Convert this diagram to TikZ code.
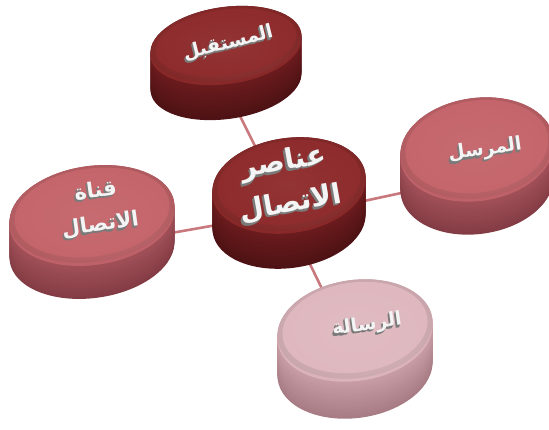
\documentclass[tikz,border=0pt]{standalone}
\usepackage{fontspec}
\newfontfamily\arabicfont[Script=Arabic]{DejaVu Sans}
\TeXXeTstate=1

\definecolor{darkface}{HTML}{8E2B2C}
\definecolor{darkside}{HTML}{6E1C1E}
\definecolor{darkbase}{HTML}{4E1214}
\definecolor{roseface}{HTML}{C4656B}
\definecolor{roseside}{HTML}{A4525A}
\definecolor{rosebase}{HTML}{843C44}
\definecolor{paleface}{HTML}{DFB8BF}
\definecolor{paleside}{HTML}{CBA0A8}
\definecolor{palebase}{HTML}{A87C84}
\definecolor{linkcol}{HTML}{C9787E}
\definecolor{extrude}{HTML}{7A7A7A}
\definecolor{letter}{HTML}{F4F4F4}

\tikzset{
  link/.style={draw=linkcol, line width=2.6pt},
  caption3d/.style={align=center, inner sep=0pt}
}

% #1 centre x, #2 centre y, #3 x radius, #4 y radius, #5 tilt, #6 depth, #7 palette
\newcommand\puckshape[7]{%
  \foreach \k in {0,...,30}{%
    \pgfmathsetmacro\off{#6*(1-\k/30)}%
    \pgfmathsetmacro\mix{100*\k/30}%
    \fill[#7side!\mix!#7base, shift={(#1,#2+\off)}, rotate=#5]
      (0,0) ellipse ({#3} and {#4});
  }%
  % rounded rim between side and face
  \fill[#7face!80!#7side, shift={(#1,#2+3)}, rotate=#5]
    (0,0) ellipse ({#3} and {#4});
  \shade[shift={(#1,#2)}, rotate=#5, inner color=#7face!88!white,
         outer color=#7face!90!black]
    (0,0) ellipse ({#3} and {#4});
  \shade[shift={(#1,#2-1.5)}, rotate=#5, inner color=#7face!96!white,
         outer color=#7face]
    (0,0) ellipse ({#3-5} and {#4-4});
}

% #1 name, #2 x, #3 y, #4 tilt, #5 size, #6 leading, #7 text
\newcommand\puckcaption[7]{%
  \foreach \d in {3,2,1}{%
    \node[caption3d, text=extrude, rotate=#4, font=\fontsize{#5}{#6}\arabicfont\bfseries]
      at (#2-0.5*\d,#3+0.8*\d) {#7};
  }%
  \node[caption3d, text=letter, rotate=#4, font=\fontsize{#5}{#6}\arabicfont\bfseries]
    (#1) at (#2,#3) {#7};
}

\begin{document}
\begin{tikzpicture}[x=1pt,y=-1pt]
\useasboundingbox (0,0) rectangle (549,430);

% end points of the spokes, hidden under the pucks
\coordinate (futA) at (240,116);
\coordinate (futB) at (258,152);
\coordinate (sndA) at (350,204);
\coordinate (sndB) at (420,189);
\coordinate (chnA) at (160,235);
\coordinate (chnB) at (228,223);
\coordinate (msgA) at (308,260);
\coordinate (msgB) at (325,295);

\draw[link] (futA) -- (futB);
\draw[link] (sndA) -- (sndB);
\draw[link] (chnA) -- (chnB);
\draw[link] (msgA) -- (msgB);

% pucks
\puckshape{226}{44}{76}{37}{8}{38}{dark}
\puckshape{477}{148}{77}{50}{8}{36}{rose}
\puckshape{92}{214}{83}{48}{8}{36}{rose}
\puckshape{289}{184}{77}{46}{8}{38}{dark}
\puckshape{355}{329}{78}{49}{8}{40}{pale}

% captions
\puckcaption{future}{228}{43}{14}{19}{25}{\beginR المستقبل\endR}
\puckcaption{core}{287}{183}{10}{28}{42}{\beginR عناصر\endR\\\beginR الاتصال\endR}
\puckcaption{sender}{485}{150}{8}{19}{25}{\beginR المرسل\endR}
\puckcaption{channel}{98}{208}{8}{21}{34}{\beginR قناة\endR\\\beginR الاتصال\endR}
\puckcaption{message}{367}{325}{8}{19}{25}{\beginR الرسالة\endR}

\end{tikzpicture}
\end{document}
